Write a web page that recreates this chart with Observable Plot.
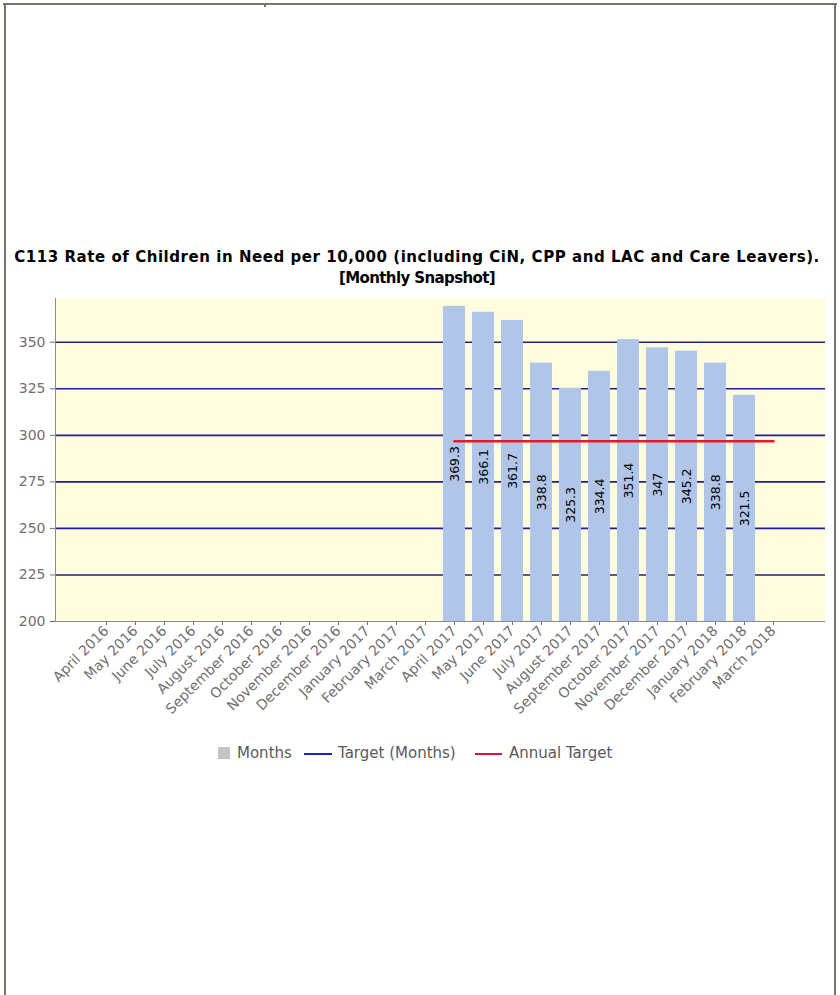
<!DOCTYPE html>
<html><head><meta charset="utf-8">
<script src="https://cdn.jsdelivr.net/npm/d3@7"></script>
<script src="https://cdn.jsdelivr.net/npm/@observablehq/plot@0.6"></script>
<style>
body{margin:0;background:#fff;}
#page{position:relative;width:840px;height:995px;overflow:hidden;background:#fff;font-family:"DejaVu Sans",sans-serif;}
.b{position:absolute;background:#76766e;}
#title{position:absolute;top:247px;left:0;width:834px;text-align:center;font-weight:bold;font-size:15px;line-height:21px;color:#000;}
#title .l1{letter-spacing:0.55px;}
#title .l2{letter-spacing:-0.6px;}
#chart{position:absolute;top:290px;left:0;}
#legend{position:absolute;top:743px;left:0;width:840px;height:20px;font-size:15px;color:#5a5a5a;}
#legend span{position:absolute;top:0;line-height:20px;white-space:nowrap;}
#legend i{position:absolute;display:block;}
</style></head><body>
<div id="page">
  <div class="b" style="left:3px;top:3px;width:834px;height:2px"></div>
  <div class="b" style="left:4px;top:3px;width:2px;height:992px"></div>
  <div class="b" style="left:834px;top:3px;width:2px;height:992px"></div>
  <div class="b" style="left:264px;top:5px;width:2px;height:2px"></div>
  <div id="title"><span class="l1">C113 Rate of Children in Need per 10,000 (including CiN, CPP and LAC and Care Leavers).</span><br><span class="l2">[Monthly Snapshot]</span></div>
  <div id="chart"></div>
  <div id="legend">
    <i style="left:218px;top:4px;width:12px;height:12px;background:#c4c4c4"></i>
    <span style="left:237px">Months</span>
    <i style="left:304px;top:10px;width:28px;height:1.5px;background:#1f20c8"></i>
    <span style="left:338px">Target (Months)</span>
    <i style="left:475px;top:10px;width:27px;height:1.5px;background:#e0103a"></i>
    <span style="left:509px">Annual Target</span>
  </div>
</div>
<script>
const months = ["April 2016","May 2016","June 2016","July 2016","August 2016","September 2016","October 2016","November 2016","December 2016","January 2017","February 2017","March 2017","April 2017","May 2017","June 2017","July 2017","August 2017","September 2017","October 2017","November 2017","December 2017","January 2018","February 2018","March 2018"];
const rateMonths = ["April 2017","May 2017","June 2017","July 2017","August 2017","September 2017","October 2017","November 2017","December 2017","January 2018","February 2018"];
const rateValues = [369.3, 366.1, 361.7, 338.8, 325.3, 334.4, 351.4, 347, 345.2, 338.8, 321.5];
const targetMonths = ["April 2017","May 2017","June 2017","July 2017","August 2017","September 2017","October 2017","November 2017","December 2017","January 2018","February 2018","March 2018"];
const annualTarget = [296.8, 296.8, 296.8, 296.8, 296.8, 296.8, 296.8, 296.8, 296.8, 296.8, 296.8, 296.8];
const yTicks = [200, 225, 250, 275, 300, 325, 350];
const gridValues = [225, 250, 275, 300, 325, 350];
const yBase = 200;

const rateData = rateMonths.map((m, i) => ({month: m, value: rateValues[i]}));
const targetData = targetMonths.map((m, i) => ({month: m, value: annualTarget[i]}));

const leftAxisLine = (index, scales, values, dims) => {
  const ns = "http://www.w3.org/2000/svg";
  const g = document.createElementNS(ns, "g");
  const l = document.createElementNS(ns, "line");
  l.setAttribute("x1", dims.marginLeft + 0.5);
  l.setAttribute("x2", dims.marginLeft + 0.5);
  l.setAttribute("y1", dims.marginTop);
  l.setAttribute("y2", dims.height - dims.marginBottom);
  l.setAttribute("stroke", "#8a8a8a");
  g.appendChild(l);
  return g;
};

const plot = Plot.plot({
  width: 840,
  height: 441,
  marginTop: 8,
  marginLeft: 55,
  marginRight: 15,
  marginBottom: 110,
  style: {fontFamily: '"DejaVu Sans", sans-serif', fontSize: "14px", color: "#707070", background: "transparent", overflow: "visible"},
  x: {domain: months, paddingInner: 0.23, paddingOuter: 1.3, label: null, tickRotate: -45, tickSize: 4, tickPadding: 3},
  y: {domain: [200, 373.5], ticks: yTicks, label: null, tickSize: 5, tickPadding: 5},
  marks: [
    Plot.frame({fill: "#fdfcdf", stroke: "none"}),
    Plot.ruleY(gridValues, {stroke: "#1f2088", strokeWidth: 1.6}),
    Plot.barY(rateData, {x: "month", y1: yBase, y2: "value", fill: "#b0c5e8"}),
    Plot.lineY(targetData, {x: "month", y: "value", stroke: "#e8182c", strokeWidth: 2.5}),
    Plot.text(rateData, {x: "month", y: d => (yBase + d.value) / 2, text: d => String(d.value), rotate: -90, fill: "#000", fontSize: 12.5}),
    Plot.ruleY([yBase], {stroke: "#8a8a8a"}),
    leftAxisLine
  ]
});
document.getElementById("chart").appendChild(plot);
</script>
</body></html>
